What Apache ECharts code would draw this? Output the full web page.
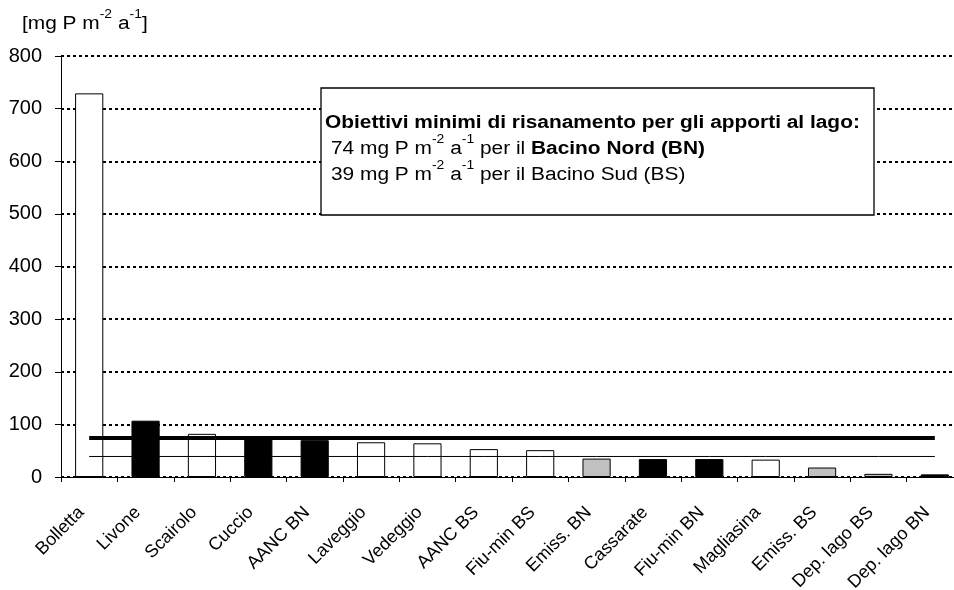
<!DOCTYPE html>
<html>
<head>
<meta charset="utf-8">
<script src="https://cdn.jsdelivr.net/npm/echarts@6/dist/echarts.min.js"></script>
<style>
  html, body { margin: 0; padding: 0; background: #ffffff; }
  #chart { width: 954px; height: 590px; }
</style>
</head>
<body>
<div id="chart"></div>
<script>
// Phosphorus loads per source [mg P m-2 a-1]
const categories = ['Bolletta', 'Livone', 'Scairolo', 'Cuccio', 'AANC BN', 'Laveggio', 'Vedeggio', 'AANC BS',
  'Fiu-min BS', 'Emiss. BN', 'Cassarate', 'Fiu-min BN', 'Magliasina', 'Emiss. BS', 'Dep. lago BS', 'Dep. lago BN'];
const loads = [729, 107, 82, 76, 70, 66, 64, 53, 51, 35, 34, 34, 33, 18, 6, 5];
// bar fill per source: open (white), solid (black), grey
const fillKind = ['open', 'solid', 'open', 'solid', 'solid', 'open', 'open', 'open',
  'open', 'grey', 'solid', 'solid', 'open', 'grey', 'grey', 'solid'];
// minimum remediation targets
const targetBN = 74;
const targetBS = 39;
// value axis ticks
const yMin = 0, yMax = 800, yStep = 100;

const fills = { open: '#ffffff', solid: '#000000', grey: '#c0c0c0' };
const FONT = '"Liberation Sans", Arial, sans-serif';
const STRETCH = 1.16;

const chart = echarts.init(document.getElementById('chart'), null, { renderer: 'canvas' });

const supStyle = { fontSize: 12, lineHeight: 12, verticalAlign: 'top', fontFamily: FONT, fill: '#000' };
const baseRich = (size, weight) => ({
  n: { fontSize: size, lineHeight: 24, verticalAlign: 'bottom', fontFamily: FONT, fontWeight: weight, fill: '#000' },
  b: { fontSize: size, lineHeight: 24, verticalAlign: 'bottom', fontFamily: FONT, fontWeight: 'bold', fill: '#000' },
  sup: supStyle
});

function textLine(x, y, text, size, weight) {
  return {
    type: 'text',
    x: x, y: y,
    scaleX: STRETCH,
    z: 110,
    style: {
      x: 0, y: 0,
      text: text,
      rich: baseRich(size, weight),
      verticalAlign: 'middle',
      align: 'left'
    }
  };
}

const option = {
  backgroundColor: '#ffffff',
  animation: false,
  grid: { left: 61, top: 56, width: 902, height: 421, containLabel: false, outerBoundsMode: 'none' },
  xAxis: {
    type: 'category',
    data: categories,
    boundaryGap: true,
    axisLine: { show: true, lineStyle: { color: '#000', width: 1 } },
    axisTick: { show: true, alignWithLabel: false, length: 5, lineStyle: { color: '#000', width: 1 } },
    axisLabel: {
      interval: 0, rotate: 45, margin: 25, padding: [0, 11, 0, 0],
      fontFamily: FONT, fontSize: 18, color: '#000'
    },
    splitLine: { show: false }
  },
  yAxis: {
    type: 'value',
    min: yMin, max: yMax, interval: yStep,
    axisLine: { show: true, lineStyle: { color: '#000', width: 1 } },
    axisTick: { show: true, length: 6, lineStyle: { color: '#000', width: 1 } },
    axisLabel: { margin: 19, fontFamily: FONT, fontSize: 20, color: '#000' },
    splitLine: { show: true, lineStyle: { color: '#000', width: 2, type: [3, 3] } }
  },
  series: [
    {
      type: 'bar',
      barWidth: '50%',
      z: 2,
      data: loads.map((v, i) => ({
        value: v,
        itemStyle: { color: fills[fillKind[i]], borderColor: '#000', borderWidth: 1 }
      }))
    },
    {
      type: 'line',
      data: categories.map(() => targetBN),
      symbol: 'none',
      z: 5,
      lineStyle: { color: '#000', width: 4 },
      silent: true
    },
    {
      type: 'line',
      data: categories.map(() => targetBS),
      symbol: 'none',
      z: 5,
      lineStyle: { color: '#000', width: 1 },
      silent: true
    }
  ],
  graphic: [
    textLine(22, 21, '{n|[mg P m}{sup|-2}{n| a}{sup|-1}{n|]}', 18, 'normal'),
    {
      type: 'rect',
      z: 100,
      shape: { x: 321, y: 88, width: 553, height: 127 },
      style: { fill: '#ffffff', stroke: '#000', lineWidth: 1.3 }
    },
    textLine(325, 120, '{b|Obiettivi minimi di risanamento per gli apporti al lago:}', 18, 'bold'),
    textLine(331, 146, '{n|74 mg P m}{sup|-2}{n| a}{sup|-1}{n| per il }{b|Bacino Nord (BN)}', 18, 'normal'),
    textLine(331, 172, '{n|39 mg P m}{sup|-2}{n| a}{sup|-1}{n| per il Bacino Sud (BS)}', 18, 'normal')
  ]
};

chart.setOption(option);
</script>
</body>
</html>
